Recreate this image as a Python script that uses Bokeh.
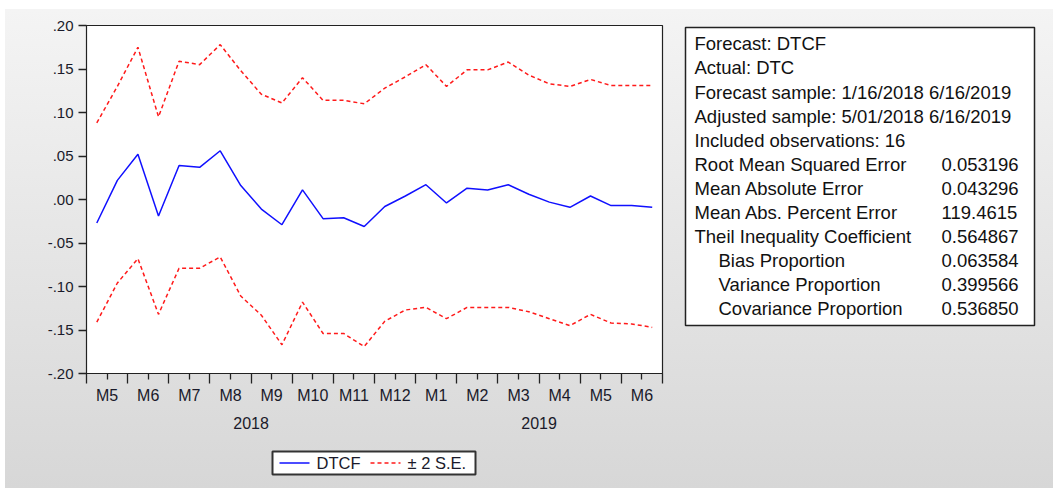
from bokeh.plotting import figure
from bokeh.models import FixedTicker, LinearAxis, Range1d, Spacer
from bokeh.layouts import row, column
from bokeh.embed import file_html
from bokeh.resources import INLINE
from bokeh.core.properties import value

# ---------------- data ----------------
months = ["M5", "M6", "M7", "M8", "M9", "M10", "M11", "M12",
          "M1", "M2", "M3", "M4", "M5", "M6"]
years = ["2018", "2019"]
months_per_year = [8, 6]
obs_per_month = 2

dtcf = [-0.027, 0.022, 0.052, -0.019, 0.039, 0.037, 0.056, 0.016,
        -0.011, -0.029, 0.011, -0.022, -0.021, -0.031, -0.008, 0.004,
        0.017, -0.004, 0.013, 0.011, 0.017, 0.006, -0.003, -0.009,
        0.004, -0.007, -0.007, -0.009]
upper = [0.088, 0.130, 0.175, 0.095, 0.159, 0.155, 0.178, 0.148,
         0.121, 0.111, 0.140, 0.114, 0.114, 0.110, 0.128, 0.141,
         0.155, 0.130, 0.149, 0.149, 0.158, 0.143, 0.133, 0.130,
         0.138, 0.131, 0.131, 0.131]
lower = [-0.141, -0.096, -0.068, -0.132, -0.079, -0.079, -0.066, -0.111,
         -0.133, -0.167, -0.118, -0.154, -0.154, -0.169, -0.140, -0.127,
         -0.124, -0.137, -0.124, -0.124, -0.124, -0.129, -0.137, -0.145,
         -0.132, -0.142, -0.143, -0.147]

y_ticks = [-0.20, -0.15, -0.10, -0.05, 0.00, 0.05, 0.10, 0.15, 0.20]
y_tick_labels = ["-.20", "-.15", "-.10", "-.05", ".00", ".05", ".10", ".15", ".20"]

stat_labels = ["Forecast: DTCF", "Actual: DTC",
               "Forecast sample: 1/16/2018 6/16/2019",
               "Adjusted sample: 5/01/2018 6/16/2019",
               "Included observations: 16",
               "Root Mean Squared Error", "Mean Absolute Error",
               "Mean Abs. Percent Error", "Theil Inequality Coefficient",
               "Bias Proportion", "Variance Proportion", "Covariance Proportion"]
stat_values = ["", "", "", "", "", "0.053196", "0.043296", "119.4615",
               "0.564867", "0.063584", "0.399566", "0.536850"]
stat_indent = [False] * 9 + [True] * 3

legend_labels = ["DTCF", "\u00b1 2 S.E."]

# ---------------- derived positions ----------------
n = len(dtcf)
x = [i + 0.5 for i in range(n)]
n_slots = len(months) * obs_per_month
label_ticks = [m * obs_per_month + obs_per_month / 2 for m in range(len(months))]
boundary_ticks = [m * obs_per_month for m in range(len(months) + 1)]
year_ticks = []
start = 0
for cnt in months_per_year:
    year_ticks.append(start + cnt * obs_per_month / 2)
    start += cnt * obs_per_month

FONT = "Liberation Sans"
TXT = "#1a1a2a"
BLUE = "#1010ff"
RED = "#ff1a1a"
DASH = "4 3"
LW = 1.5
FRAME_W = 576

# ---------------- main chart ----------------
p = figure(frame_width=FRAME_W, frame_height=348,
           x_range=Range1d(0, n_slots), y_range=Range1d(-0.2, 0.2),
           min_border_left=81, min_border_right=3, min_border_top=16,
           min_border_bottom=72, toolbar_location=None, output_backend="svg",
           title=None, tools="")
p.border_fill_color = None
p.background_fill_color = "white"
p.outline_line_color = "#222222"
p.outline_line_width = 1.2
p.grid.grid_line_color = None

xa = p.xaxis[0]
xa.ticker = FixedTicker(ticks=label_ticks, minor_ticks=boundary_ticks)
xa.major_label_overrides = {t: lab for t, lab in zip(label_ticks, months)}
xa.major_tick_in = 0
xa.major_tick_out = 6
xa.minor_tick_in = 0
xa.minor_tick_out = 10
xa.major_label_standoff = 3
xa.axis_line_color = "#222222"
xa.major_tick_line_color = "#222222"
xa.minor_tick_line_color = "#222222"
xa.major_tick_line_width = 1.3
xa.minor_tick_line_width = 1.3
xa.major_label_text_font = FONT
xa.major_label_text_font_size = "16px"
xa.major_label_text_color = TXT

ya = p.yaxis[0]
ya.ticker = FixedTicker(ticks=y_ticks, minor_ticks=[])
ya.major_label_overrides = {t: lab for t, lab in zip(y_ticks, y_tick_labels)}
ya.major_tick_in = 0
ya.major_tick_out = 8
ya.major_label_standoff = 5
ya.axis_line_color = "#222222"
ya.major_tick_line_color = "#222222"
ya.major_tick_line_width = 1.3
ya.minor_tick_line_color = None
ya.major_label_text_font = FONT
ya.major_label_text_font_size = "15px"
ya.major_label_text_color = TXT

ax2 = LinearAxis(ticker=FixedTicker(ticks=year_ticks, minor_ticks=[]),
                 major_label_overrides={t: y for t, y in zip(year_ticks, years)},
                 axis_line_color=None, major_tick_line_color=None,
                 minor_tick_line_color=None, major_tick_out=0, major_tick_in=0,
                 major_label_standoff=10, major_label_text_font=FONT,
                 major_label_text_font_size="16px",
                 major_label_text_color=TXT)
p.add_layout(ax2, "below")

p.line(x, dtcf, line_color=BLUE, line_width=LW)
p.line(x, upper, line_color=RED, line_width=LW, line_dash=DASH)
p.line(x, lower, line_color=RED, line_width=LW, line_dash=DASH)

# ---------------- legend strip (aligned with the chart frame) ----------------
LEG_STRIP_H = 43
pleg = figure(frame_width=FRAME_W, frame_height=LEG_STRIP_H,
              x_range=Range1d(0, FRAME_W), y_range=Range1d(LEG_STRIP_H, 0),
              min_border_left=81, min_border_right=3, min_border_top=0,
              min_border_bottom=0, toolbar_location=None, output_backend="svg",
              title=None, tools="", x_axis_location=None, y_axis_location=None)
pleg.border_fill_color = None
pleg.background_fill_color = None
pleg.outline_line_color = None
pleg.grid.grid_line_color = None
bx0, bx1, by0, by1 = 186, 389, 6, 29
bmid = (by0 + by1) / 2
pleg.quad(left=[bx0], right=[bx1], top=[by0], bottom=[by1], fill_color="white",
          line_color="#333333", line_width=2)
pleg.line([bx0 + 7, bx0 + 37], [bmid, bmid], line_color=BLUE, line_width=LW)
pleg.line([bx0 + 98, bx0 + 128], [bmid, bmid], line_color=RED, line_width=LW,
          line_dash=DASH)
pleg.text(x=[bx0 + 44, bx0 + 135], y=[bmid, bmid], text=legend_labels,
          text_font=value(FONT), text_font_size="16.5px", text_baseline="middle",
          text_color=TXT)

# ---------------- statistics box ----------------
BOX_W, BOX_H = 349, 298
p2 = figure(frame_width=BOX_W, frame_height=BOX_H,
            x_range=Range1d(0, BOX_W), y_range=Range1d(BOX_H, 0),
            min_border_left=20, min_border_right=19, min_border_top=18,
            min_border_bottom=163, toolbar_location=None, output_backend="svg",
            title=None, tools="", x_axis_location=None, y_axis_location=None)
p2.border_fill_color = None
p2.background_fill_color = "white"
p2.outline_line_color = "#222222"
p2.outline_line_width = 1.5
p2.grid.grid_line_color = None

line_h = 24.1
ys = [16.3 + line_h * k for k in range(len(stat_labels))]
lx = [33 if ind else 9 for ind in stat_indent]
p2.text(x=lx, y=ys, text=stat_labels, text_font=value(FONT),
        text_font_size="18.5px", text_baseline="middle", text_color="#111111")
p2.text(x=[256] * len(stat_values), y=ys, text=stat_values, text_font=value(FONT),
        text_font_size="18.5px", text_baseline="middle", text_color="#111111")

inner = row(column(p, pleg), p2,
            styles={"background": "linear-gradient(to bottom, #f4f4f4, #d7d7d7)"})
layout = column(Spacer(height=9), row(Spacer(width=5), inner))
open("out.html", "w").write(file_html(layout, INLINE))
